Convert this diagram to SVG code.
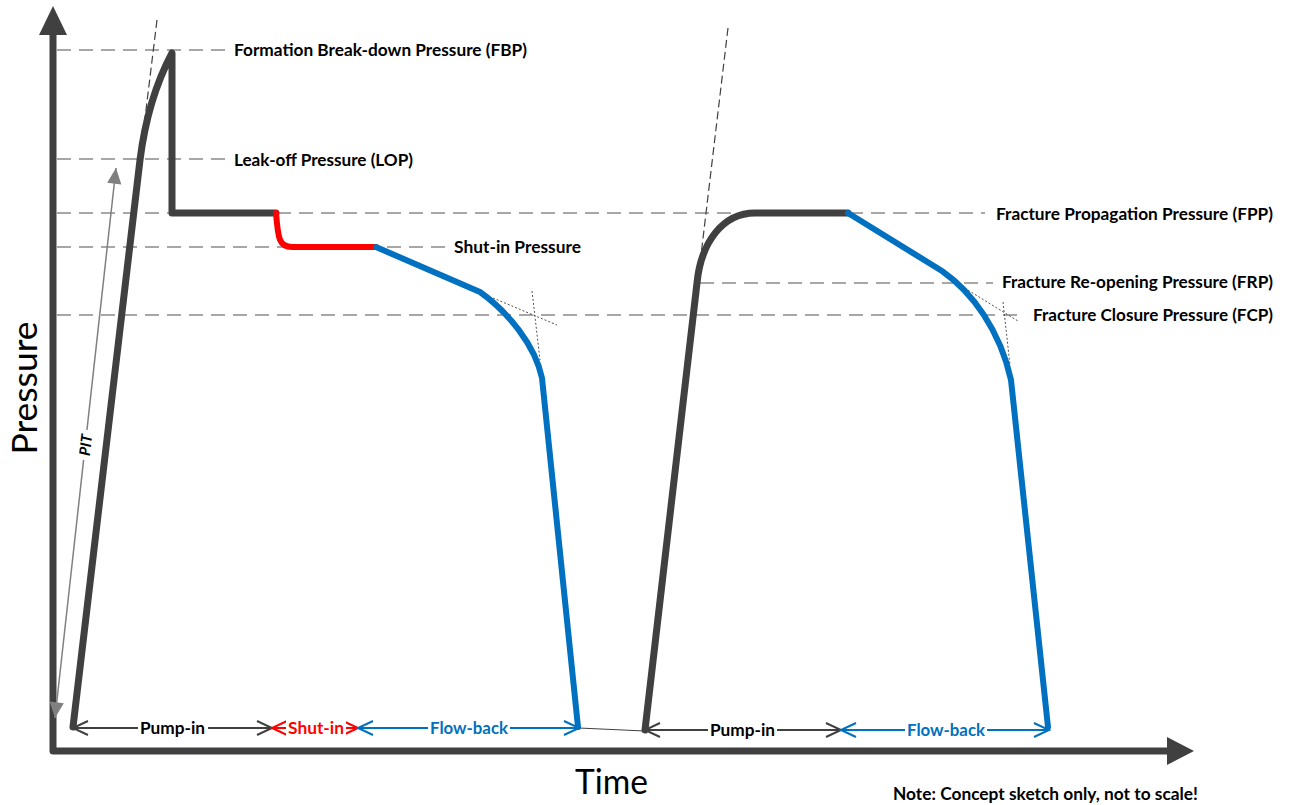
<svg xmlns="http://www.w3.org/2000/svg" width="1293" height="805" viewBox="0 0 1293 805">
<style>
.ref{fill:none;stroke:#8a8a8a;stroke-width:1.5;stroke-dasharray:14 8}
.tan{fill:none;stroke:#404040;stroke-width:1.2;stroke-dasharray:8 4}
.dot{fill:none;stroke:#505050;stroke-width:1;stroke-dasharray:2 2}
.dark{fill:none;stroke:#404040;stroke-width:7;stroke-linejoin:round;stroke-linecap:round}
.red{fill:none;stroke:#ff0000;stroke-width:6;stroke-linejoin:round;stroke-linecap:round}
.blue{fill:none;stroke:#0070c0;stroke-width:6;stroke-linejoin:round;stroke-linecap:round}
.lbl{font-family:Lato,"Liberation Sans",sans-serif;font-weight:bold;font-size:17.5px;fill:#000}
.big{font-family:Lato,"Liberation Sans",sans-serif;font-size:34px;fill:#000}
.dimk{stroke:#404040;stroke-width:2;fill:none}
.dimr{stroke:#ff0000;stroke-width:2;fill:none}
.dimb{stroke:#0070c0;stroke-width:2;fill:none}
</style>
<defs>
<marker id="chk" markerUnits="userSpaceOnUse" markerWidth="20" markerHeight="20" refX="0" refY="0" viewBox="-16 -10 20 20" orient="auto-start-reverse" overflow="visible"><path d="M-15,-7 L0,0 L-15,7" fill="none" stroke="#404040" stroke-width="2"/></marker>
<marker id="chr" markerUnits="userSpaceOnUse" markerWidth="20" markerHeight="20" refX="0" refY="0" viewBox="-16 -10 20 20" orient="auto-start-reverse" overflow="visible"><path d="M-15,-7 L0,0 L-15,7" fill="none" stroke="#ff0000" stroke-width="2"/></marker>
<marker id="chb" markerUnits="userSpaceOnUse" markerWidth="20" markerHeight="20" refX="0" refY="0" viewBox="-16 -10 20 20" orient="auto-start-reverse" overflow="visible"><path d="M-15,-7 L0,0 L-15,7" fill="none" stroke="#0070c0" stroke-width="2"/></marker>
<marker id="tri" markerUnits="userSpaceOnUse" markerWidth="20" markerHeight="20" refX="0" refY="0" viewBox="-12 -6 14 12" orient="auto-start-reverse" overflow="visible"><path d="M-11,-5 L0,0 L-11,5 Z" fill="#808080"/></marker>
</defs>

<g id="axes">
<path d="M53,34 L53,751 L1168,751" fill="none" stroke="#404040" stroke-width="7" stroke-linejoin="round"/>
<polygon points="39,35 53,6 67,35" fill="#404040"/>
<polygon points="1167,737 1194,751 1167,765" fill="#404040"/>
<text class="big" transform="translate(37,388) rotate(-90)" text-anchor="middle" textLength="133" lengthAdjust="spacingAndGlyphs">Pressure</text>
<text class="big" x="575" y="794" textLength="73" lengthAdjust="spacingAndGlyphs">Time</text>
</g>

<g id="reference-lines">
<line class="ref" x1="57" y1="50" x2="228" y2="50"/>
<line class="ref" x1="57" y1="159" x2="228" y2="159"/>
<line class="ref" x1="57" y1="213" x2="985" y2="213"/>
<line class="ref" x1="57" y1="247" x2="447" y2="247"/>
<line class="ref" x1="700" y1="283" x2="993" y2="283"/>
<line class="ref" x1="57" y1="315" x2="1020" y2="315"/>
</g>

<g id="labels">
<text class="lbl" x="234" y="56" textLength="293" lengthAdjust="spacingAndGlyphs">Formation Break-down Pressure (FBP)</text>
<text class="lbl" x="234" y="166" textLength="179" lengthAdjust="spacingAndGlyphs">Leak-off Pressure (LOP)</text>
<text class="lbl" x="454" y="253" textLength="127" lengthAdjust="spacingAndGlyphs">Shut-in Pressure</text>
<text class="lbl" x="996" y="220" textLength="277" lengthAdjust="spacingAndGlyphs">Fracture Propagation Pressure (FPP)</text>
<text class="lbl" x="1002" y="288" textLength="271" lengthAdjust="spacingAndGlyphs">Fracture Re-opening Pressure (FRP)</text>
<text class="lbl" x="1033" y="321" textLength="240" lengthAdjust="spacingAndGlyphs">Fracture Closure Pressure (FCP)</text>
<text class="lbl" x="893" y="800" style="font-size:16.5px" textLength="305" lengthAdjust="spacingAndGlyphs">Note: Concept sketch only, not to scale!</text>
</g>

<g id="tangents">
<line class="tan" x1="157" y1="20" x2="145" y2="118"/>
<line class="tan" x1="728" y1="28" x2="699" y2="272"/>
<line class="dot" x1="493" y1="298" x2="557" y2="325"/>
<line class="dot" x1="532" y1="291" x2="540" y2="360"/>
<line class="dot" x1="958" y1="284" x2="1018" y2="321"/>
<line class="dot" x1="1003" y1="302" x2="1010" y2="365"/>
</g>

<g id="cycle1">
<path class="dark" d="M73,727 L140,160 C145,120 155,85 172,53 L172,213 L276,213"/>
<path class="red" d="M276,213 C278,238 279,247 292,247 L376,247"/>
<path class="blue" d="M376,247 L480,292 C508,312 535,345 542,378 L578,727"/>
</g>

<g id="cycle2">
<line x1="579" y1="728" x2="645" y2="731" stroke="#404040" stroke-width="1"/>
<path class="dark" d="M645,730 L697,283 C701,242 723,213 755,213 L848,213"/>
<path class="blue" d="M848,213 L942,271 C972,292 1000,330 1011,380 L1048,727"/>
</g>

<g id="pit">
<line x1="55" y1="718" x2="116" y2="168" stroke="#808080" stroke-width="1.5" marker-start="url(#tri)" marker-end="url(#tri)"/>
<g transform="translate(86,445) rotate(-83.7)">
<rect x="-15" y="-9" width="30" height="18" fill="#fff"/>
<text class="lbl" x="0" y="5" style="font-size:15px;font-style:italic" text-anchor="middle">PIT</text>
</g>
</g>

<g id="phases">
<line class="dimk" x1="73" y1="728" x2="272" y2="728" marker-start="url(#chk)" marker-end="url(#chk)"/>
<rect x="138" y="718" width="70" height="19" fill="#fff"/>
<text class="lbl" x="172.5" y="734" text-anchor="middle" textLength="65" lengthAdjust="spacingAndGlyphs">Pump-in</text>

<line class="dimr" x1="272" y1="728" x2="358" y2="728" marker-start="url(#chr)" marker-end="url(#chr)"/>
<rect x="286" y="718" width="60" height="19" fill="#fff"/>
<text class="lbl" x="316" y="734" text-anchor="middle" style="fill:#ff0000" textLength="56" lengthAdjust="spacingAndGlyphs">Shut-in</text>

<line class="dimb" x1="358" y1="728" x2="579" y2="728" marker-start="url(#chb)" marker-end="url(#chb)"/>
<rect x="428" y="718" width="82" height="19" fill="#fff"/>
<text class="lbl" x="469" y="734" text-anchor="middle" style="fill:#0070c0" textLength="78" lengthAdjust="spacingAndGlyphs">Flow-back</text>

<line class="dimk" x1="645" y1="730" x2="841" y2="730" marker-start="url(#chk)" marker-end="url(#chk)"/>
<rect x="708" y="720" width="69" height="19" fill="#fff"/>
<text class="lbl" x="742.5" y="736" text-anchor="middle" textLength="65" lengthAdjust="spacingAndGlyphs">Pump-in</text>

<line class="dimb" x1="841" y1="730" x2="1049" y2="730" marker-start="url(#chb)" marker-end="url(#chb)"/>
<rect x="905" y="720" width="82" height="19" fill="#fff"/>
<text class="lbl" x="946" y="736" text-anchor="middle" style="fill:#0070c0" textLength="78" lengthAdjust="spacingAndGlyphs">Flow-back</text>
</g>
</svg>
